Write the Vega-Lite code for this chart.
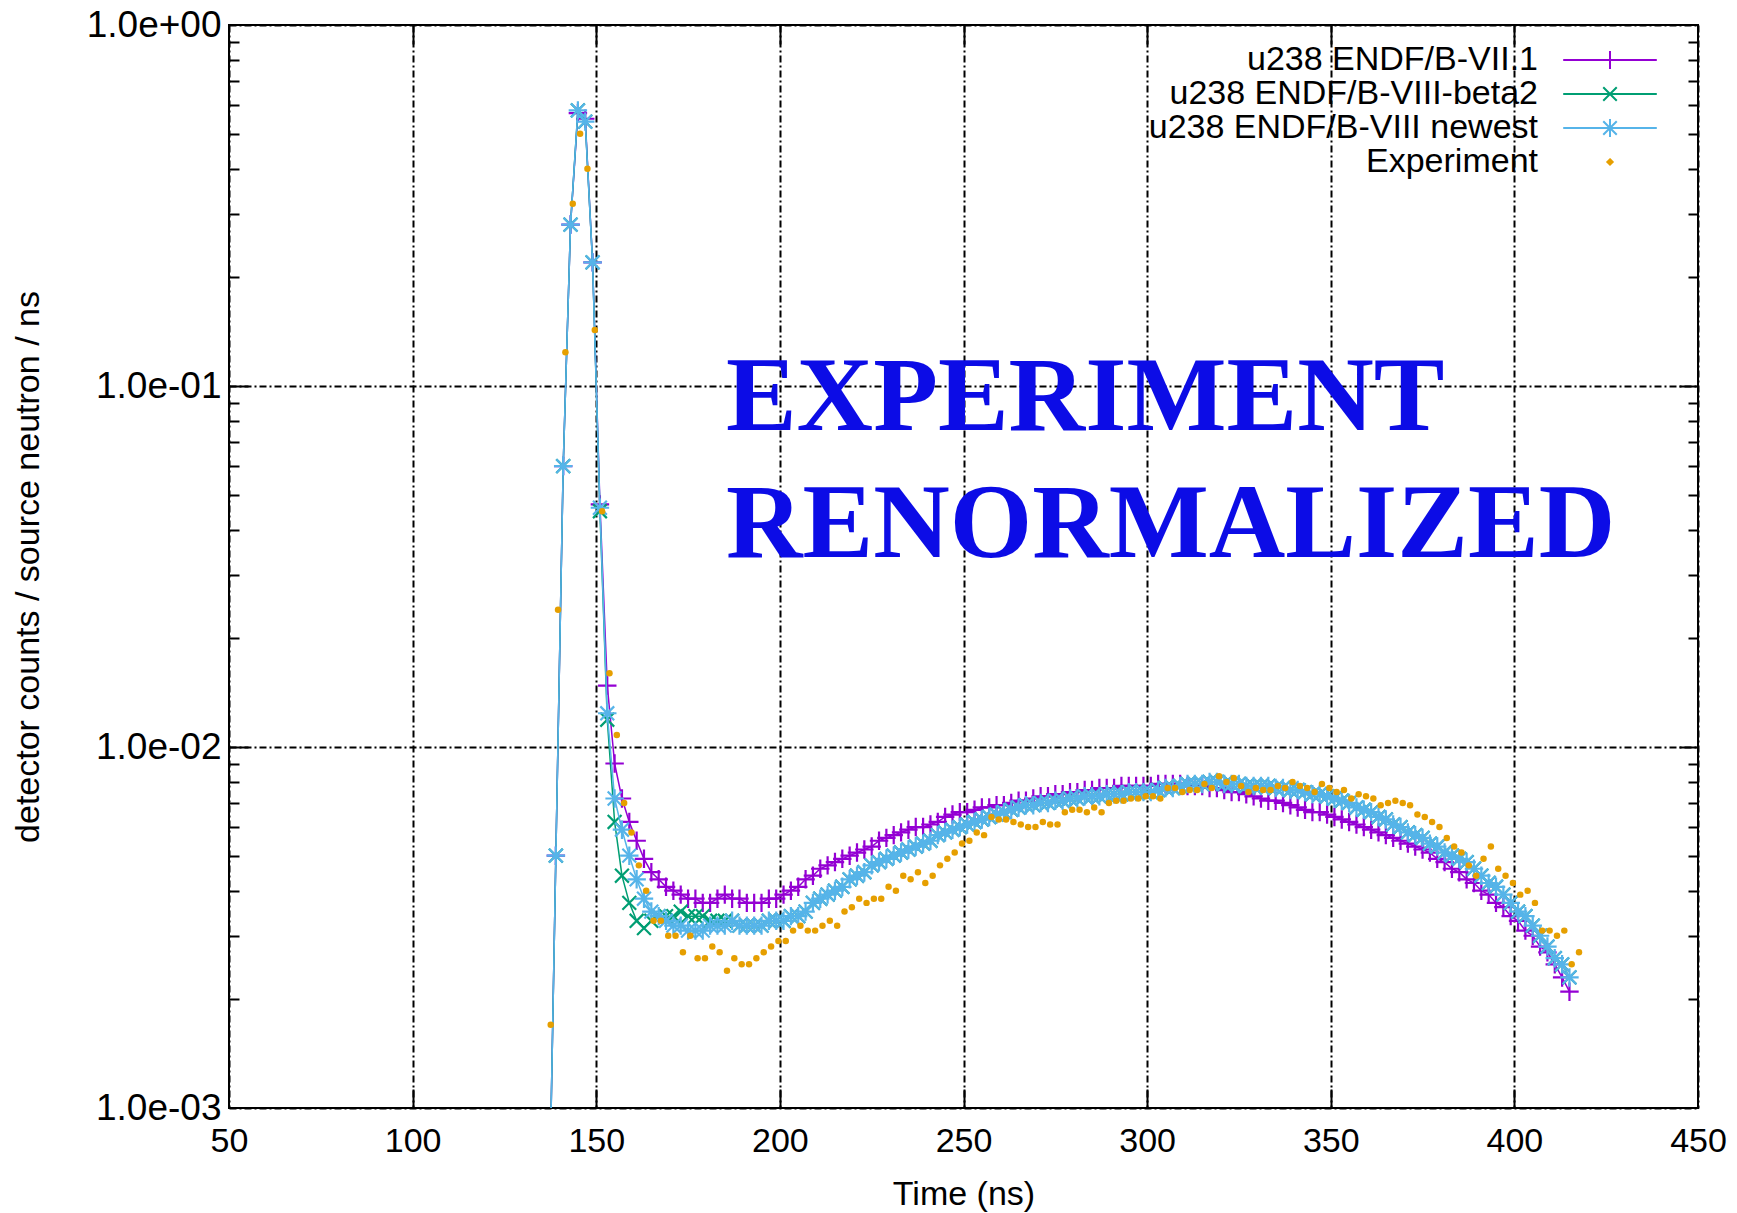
{
"$schema": "https://vega.github.io/schema/vega-lite/v6.json",
"autosize": "none",
"width": 1469,
"height": 1083,
"padding": {"left": 229, "top": 25, "right": 39, "bottom": 105},
"background": "#ffffff",
"datasets": {
"p": [{"t":137,"v":0.0004},{"t":139,"v":0.005},{"t":141,"v":0.06},{"t":143,"v":0.28},{"t":145,"v":0.57},{"t":147,"v":0.55},{"t":149,"v":0.22},{"t":151,"v":0.047},{"t":153,"v":0.0148},{"t":155,"v":0.009},{"t":157,"v":0.0072},{"t":159,"v":0.0062},{"t":161,"v":0.0055},{"t":163,"v":0.0049},{"t":165,"v":0.0045},{"t":167,"v":0.0043},{"t":169,"v":0.0041},{"t":171,"v":0.004},{"t":173,"v":0.0039},{"t":175,"v":0.0038},{"t":177,"v":0.0038},{"t":179,"v":0.0037},{"t":181,"v":0.0037},{"t":183,"v":0.0038},{"t":185,"v":0.0039},{"t":187,"v":0.0038},{"t":189,"v":0.0038},{"t":191,"v":0.0037},{"t":193,"v":0.0037},{"t":195,"v":0.0037},{"t":197,"v":0.0038},{"t":199,"v":0.0038},{"t":201,"v":0.0039},{"t":203,"v":0.004},{"t":205,"v":0.0041},{"t":207,"v":0.0043},{"t":209,"v":0.0044},{"t":211,"v":0.0046},{"t":213,"v":0.0047},{"t":215,"v":0.0048},{"t":217,"v":0.0049},{"t":219,"v":0.005},{"t":221,"v":0.0051},{"t":223,"v":0.0052},{"t":225,"v":0.0053},{"t":227,"v":0.0055},{"t":229,"v":0.0056},{"t":231,"v":0.0057},{"t":233,"v":0.0058},{"t":235,"v":0.0059},{"t":237,"v":0.006},{"t":239,"v":0.006},{"t":241,"v":0.0061},{"t":243,"v":0.0062},{"t":245,"v":0.0064},{"t":247,"v":0.0065},{"t":249,"v":0.0066},{"t":251,"v":0.0066},{"t":253,"v":0.0067},{"t":255,"v":0.0068},{"t":257,"v":0.0068},{"t":259,"v":0.0069},{"t":261,"v":0.0069},{"t":263,"v":0.007},{"t":265,"v":0.0071},{"t":267,"v":0.0071},{"t":269,"v":0.0072},{"t":271,"v":0.0073},{"t":273,"v":0.0073},{"t":275,"v":0.0074},{"t":277,"v":0.0074},{"t":279,"v":0.0075},{"t":281,"v":0.0075},{"t":283,"v":0.0076},{"t":285,"v":0.0076},{"t":287,"v":0.0077},{"t":289,"v":0.0077},{"t":291,"v":0.0077},{"t":293,"v":0.0078},{"t":295,"v":0.0078},{"t":297,"v":0.0078},{"t":299,"v":0.0078},{"t":301,"v":0.0078},{"t":303,"v":0.0079},{"t":305,"v":0.0079},{"t":307,"v":0.0079},{"t":309,"v":0.0079},{"t":311,"v":0.0078},{"t":313,"v":0.0078},{"t":315,"v":0.0078},{"t":317,"v":0.0077},{"t":319,"v":0.0077},{"t":321,"v":0.0076},{"t":323,"v":0.0075},{"t":325,"v":0.0075},{"t":327,"v":0.0074},{"t":329,"v":0.0073},{"t":331,"v":0.0072},{"t":333,"v":0.0071},{"t":335,"v":0.0071},{"t":337,"v":0.007},{"t":339,"v":0.0069},{"t":341,"v":0.0068},{"t":343,"v":0.0067},{"t":345,"v":0.0066},{"t":347,"v":0.0066},{"t":349,"v":0.0065},{"t":351,"v":0.0064},{"t":353,"v":0.0063},{"t":355,"v":0.0062},{"t":357,"v":0.0061},{"t":359,"v":0.006},{"t":361,"v":0.0059},{"t":363,"v":0.0058},{"t":365,"v":0.0057},{"t":367,"v":0.0056},{"t":369,"v":0.0055},{"t":371,"v":0.0054},{"t":373,"v":0.0053},{"t":375,"v":0.0052},{"t":377,"v":0.0051},{"t":379,"v":0.0049},{"t":381,"v":0.0048},{"t":383,"v":0.0046},{"t":385,"v":0.0045},{"t":387,"v":0.0043},{"t":389,"v":0.0042},{"t":391,"v":0.004},{"t":393,"v":0.0039},{"t":395,"v":0.0037},{"t":397,"v":0.0036},{"t":399,"v":0.0034},{"t":401,"v":0.0033},{"t":403,"v":0.0031},{"t":405,"v":0.003},{"t":407,"v":0.0028},{"t":409,"v":0.0027},{"t":411,"v":0.0025},{"t":413,"v":0.0023},{"t":415,"v":0.0021}],
"g": [{"t":137,"v":0.0004},{"t":139,"v":0.005},{"t":141,"v":0.06},{"t":143,"v":0.28},{"t":145,"v":0.58},{"t":147,"v":0.54},{"t":149,"v":0.22},{"t":151,"v":0.045},{"t":153,"v":0.0119},{"t":155,"v":0.0062},{"t":157,"v":0.0044},{"t":159,"v":0.0037},{"t":161,"v":0.0033},{"t":163,"v":0.00315},{"t":165,"v":0.0033},{"t":167,"v":0.0034},{"t":169,"v":0.0034},{"t":171,"v":0.0034},{"t":173,"v":0.0035},{"t":175,"v":0.0034},{"t":177,"v":0.0034},{"t":179,"v":0.0034},{"t":181,"v":0.0033},{"t":183,"v":0.0033},{"t":185,"v":0.0033},{"t":187,"v":0.0033},{"t":189,"v":0.0032},{"t":191,"v":0.0032},{"t":193,"v":0.0032},{"t":195,"v":0.0032},{"t":197,"v":0.0033},{"t":199,"v":0.0033},{"t":201,"v":0.0033},{"t":203,"v":0.0034},{"t":205,"v":0.0034},{"t":207,"v":0.0035},{"t":209,"v":0.0037},{"t":211,"v":0.0038},{"t":213,"v":0.0039},{"t":215,"v":0.004},{"t":217,"v":0.0041},{"t":219,"v":0.0043},{"t":221,"v":0.0044},{"t":223,"v":0.0045},{"t":225,"v":0.0047},{"t":227,"v":0.0048},{"t":229,"v":0.0049},{"t":231,"v":0.005},{"t":233,"v":0.0051},{"t":235,"v":0.0052},{"t":237,"v":0.0053},{"t":239,"v":0.0054},{"t":241,"v":0.0055},{"t":243,"v":0.0057},{"t":245,"v":0.0058},{"t":247,"v":0.0059},{"t":249,"v":0.006},{"t":251,"v":0.0061},{"t":253,"v":0.0062},{"t":255,"v":0.0063},{"t":257,"v":0.0064},{"t":259,"v":0.0065},{"t":261,"v":0.0066},{"t":263,"v":0.0067},{"t":265,"v":0.0068},{"t":267,"v":0.0069},{"t":269,"v":0.0069},{"t":271,"v":0.007},{"t":273,"v":0.007},{"t":275,"v":0.0071},{"t":277,"v":0.0071},{"t":279,"v":0.0072},{"t":281,"v":0.0072},{"t":283,"v":0.0073},{"t":285,"v":0.0073},{"t":287,"v":0.0073},{"t":289,"v":0.0074},{"t":291,"v":0.0074},{"t":293,"v":0.0074},{"t":295,"v":0.0075},{"t":297,"v":0.0075},{"t":299,"v":0.0075},{"t":301,"v":0.0075},{"t":303,"v":0.0076},{"t":305,"v":0.0077},{"t":307,"v":0.0077},{"t":309,"v":0.0078},{"t":311,"v":0.0079},{"t":313,"v":0.0079},{"t":315,"v":0.0079},{"t":317,"v":0.008},{"t":319,"v":0.008},{"t":321,"v":0.0079},{"t":323,"v":0.0079},{"t":325,"v":0.0079},{"t":327,"v":0.0078},{"t":329,"v":0.0078},{"t":331,"v":0.0078},{"t":333,"v":0.0078},{"t":335,"v":0.0077},{"t":337,"v":0.0077},{"t":339,"v":0.0076},{"t":341,"v":0.0076},{"t":343,"v":0.0075},{"t":345,"v":0.0074},{"t":347,"v":0.0074},{"t":349,"v":0.0073},{"t":351,"v":0.0072},{"t":353,"v":0.0071},{"t":355,"v":0.007},{"t":357,"v":0.0068},{"t":359,"v":0.0067},{"t":361,"v":0.0066},{"t":363,"v":0.0064},{"t":365,"v":0.0063},{"t":367,"v":0.0061},{"t":369,"v":0.006},{"t":371,"v":0.0058},{"t":373,"v":0.0057},{"t":375,"v":0.0056},{"t":377,"v":0.0054},{"t":379,"v":0.0053},{"t":381,"v":0.0051},{"t":383,"v":0.005},{"t":385,"v":0.0049},{"t":387,"v":0.0048},{"t":389,"v":0.0046},{"t":391,"v":0.0044},{"t":393,"v":0.0042},{"t":395,"v":0.0041},{"t":397,"v":0.0039},{"t":399,"v":0.0037},{"t":401,"v":0.0035},{"t":403,"v":0.0034},{"t":405,"v":0.0032},{"t":407,"v":0.003},{"t":409,"v":0.0028},{"t":411,"v":0.0026},{"t":413,"v":0.0025},{"t":415,"v":0.0023}],
"n": [{"t":137,"v":0.0004},{"t":139,"v":0.005},{"t":141,"v":0.06},{"t":143,"v":0.28},{"t":145,"v":0.58},{"t":147,"v":0.54},{"t":149,"v":0.22},{"t":151,"v":0.046},{"t":153,"v":0.0124},{"t":155,"v":0.0072},{"t":157,"v":0.0059},{"t":159,"v":0.005},{"t":161,"v":0.0043},{"t":163,"v":0.0038},{"t":165,"v":0.0035},{"t":167,"v":0.0034},{"t":169,"v":0.0033},{"t":171,"v":0.0032},{"t":173,"v":0.0032},{"t":175,"v":0.0031},{"t":177,"v":0.0031},{"t":179,"v":0.0031},{"t":181,"v":0.0032},{"t":183,"v":0.0032},{"t":185,"v":0.0032},{"t":187,"v":0.0033},{"t":189,"v":0.0032},{"t":191,"v":0.0032},{"t":193,"v":0.0032},{"t":195,"v":0.0032},{"t":197,"v":0.0033},{"t":199,"v":0.0033},{"t":201,"v":0.0033},{"t":203,"v":0.0034},{"t":205,"v":0.0034},{"t":207,"v":0.0035},{"t":209,"v":0.0037},{"t":211,"v":0.0038},{"t":213,"v":0.0039},{"t":215,"v":0.004},{"t":217,"v":0.0041},{"t":219,"v":0.0043},{"t":221,"v":0.0044},{"t":223,"v":0.0045},{"t":225,"v":0.0047},{"t":227,"v":0.0048},{"t":229,"v":0.0049},{"t":231,"v":0.005},{"t":233,"v":0.0051},{"t":235,"v":0.0052},{"t":237,"v":0.0053},{"t":239,"v":0.0054},{"t":241,"v":0.0055},{"t":243,"v":0.0057},{"t":245,"v":0.0058},{"t":247,"v":0.0059},{"t":249,"v":0.006},{"t":251,"v":0.0061},{"t":253,"v":0.0062},{"t":255,"v":0.0063},{"t":257,"v":0.0064},{"t":259,"v":0.0065},{"t":261,"v":0.0066},{"t":263,"v":0.0067},{"t":265,"v":0.0068},{"t":267,"v":0.0069},{"t":269,"v":0.0069},{"t":271,"v":0.007},{"t":273,"v":0.007},{"t":275,"v":0.0071},{"t":277,"v":0.0071},{"t":279,"v":0.0072},{"t":281,"v":0.0072},{"t":283,"v":0.0073},{"t":285,"v":0.0073},{"t":287,"v":0.0073},{"t":289,"v":0.0074},{"t":291,"v":0.0074},{"t":293,"v":0.0074},{"t":295,"v":0.0075},{"t":297,"v":0.0075},{"t":299,"v":0.0075},{"t":301,"v":0.0075},{"t":303,"v":0.0076},{"t":305,"v":0.0077},{"t":307,"v":0.0077},{"t":309,"v":0.0078},{"t":311,"v":0.0079},{"t":313,"v":0.0079},{"t":315,"v":0.0079},{"t":317,"v":0.008},{"t":319,"v":0.008},{"t":321,"v":0.0079},{"t":323,"v":0.0079},{"t":325,"v":0.0079},{"t":327,"v":0.0078},{"t":329,"v":0.0078},{"t":331,"v":0.0078},{"t":333,"v":0.0078},{"t":335,"v":0.0077},{"t":337,"v":0.0077},{"t":339,"v":0.0076},{"t":341,"v":0.0076},{"t":343,"v":0.0075},{"t":345,"v":0.0074},{"t":347,"v":0.0074},{"t":349,"v":0.0073},{"t":351,"v":0.0072},{"t":353,"v":0.0071},{"t":355,"v":0.007},{"t":357,"v":0.0068},{"t":359,"v":0.0067},{"t":361,"v":0.0066},{"t":363,"v":0.0064},{"t":365,"v":0.0063},{"t":367,"v":0.0061},{"t":369,"v":0.006},{"t":371,"v":0.0058},{"t":373,"v":0.0057},{"t":375,"v":0.0056},{"t":377,"v":0.0054},{"t":379,"v":0.0053},{"t":381,"v":0.0051},{"t":383,"v":0.005},{"t":385,"v":0.0049},{"t":387,"v":0.0048},{"t":389,"v":0.0046},{"t":391,"v":0.0044},{"t":393,"v":0.0042},{"t":395,"v":0.0041},{"t":397,"v":0.0039},{"t":399,"v":0.0037},{"t":401,"v":0.0035},{"t":403,"v":0.0034},{"t":405,"v":0.0032},{"t":407,"v":0.003},{"t":409,"v":0.0028},{"t":411,"v":0.0026},{"t":413,"v":0.0025},{"t":415,"v":0.0023}],
"e": [{"t":137.6,"v":0.0017},{"t":139.6,"v":0.024},{"t":141.6,"v":0.124},{"t":143.6,"v":0.32},{"t":145.6,"v":0.5},{"t":147.6,"v":0.4},{"t":149.6,"v":0.143},{"t":151.6,"v":0.045},{"t":153.6,"v":0.016},{"t":155.6,"v":0.0108},{"t":157.6,"v":0.007},{"t":159.6,"v":0.0058},{"t":161.6,"v":0.0047},{"t":163.6,"v":0.004},{"t":165.6,"v":0.0033},{"t":167.6,"v":0.0033},{"t":169.6,"v":0.003},{"t":171.6,"v":0.003},{"t":173.6,"v":0.0027},{"t":175.6,"v":0.003},{"t":177.6,"v":0.0026},{"t":179.6,"v":0.0026},{"t":181.6,"v":0.0028},{"t":183.6,"v":0.0027},{"t":185.6,"v":0.0024},{"t":187.6,"v":0.0026},{"t":189.6,"v":0.0025},{"t":191.6,"v":0.0025},{"t":193.6,"v":0.0026},{"t":195.6,"v":0.0027},{"t":197.6,"v":0.0028},{"t":199.6,"v":0.0029},{"t":201.6,"v":0.0029},{"t":203.6,"v":0.0031},{"t":205.6,"v":0.0032},{"t":207.6,"v":0.0031},{"t":209.6,"v":0.0031},{"t":211.6,"v":0.0032},{"t":213.6,"v":0.0033},{"t":215.6,"v":0.0032},{"t":217.6,"v":0.0035},{"t":219.6,"v":0.0036},{"t":221.6,"v":0.0038},{"t":223.6,"v":0.0037},{"t":225.6,"v":0.0038},{"t":227.6,"v":0.0038},{"t":229.6,"v":0.0041},{"t":231.6,"v":0.004},{"t":233.6,"v":0.0044},{"t":235.6,"v":0.0043},{"t":237.6,"v":0.0045},{"t":239.6,"v":0.0042},{"t":241.6,"v":0.0044},{"t":243.6,"v":0.0047},{"t":245.6,"v":0.0049},{"t":247.6,"v":0.0051},{"t":249.6,"v":0.0054},{"t":251.6,"v":0.0055},{"t":253.6,"v":0.0058},{"t":255.6,"v":0.0057},{"t":257.6,"v":0.0064},{"t":259.6,"v":0.0063},{"t":261.6,"v":0.0063},{"t":263.6,"v":0.0062},{"t":265.6,"v":0.0061},{"t":267.6,"v":0.006},{"t":269.6,"v":0.006},{"t":271.6,"v":0.0062},{"t":273.6,"v":0.0061},{"t":275.6,"v":0.0061},{"t":277.6,"v":0.0066},{"t":279.6,"v":0.0067},{"t":281.6,"v":0.0067},{"t":283.6,"v":0.0066},{"t":285.6,"v":0.0068},{"t":287.6,"v":0.0066},{"t":289.6,"v":0.007},{"t":291.6,"v":0.0071},{"t":293.6,"v":0.0071},{"t":295.6,"v":0.0072},{"t":297.6,"v":0.0072},{"t":299.6,"v":0.0073},{"t":301.6,"v":0.0073},{"t":303.6,"v":0.0072},{"t":305.6,"v":0.0077},{"t":307.6,"v":0.0077},{"t":309.6,"v":0.0075},{"t":311.6,"v":0.0076},{"t":313.6,"v":0.0076},{"t":315.6,"v":0.0079},{"t":317.6,"v":0.0077},{"t":319.6,"v":0.0083},{"t":321.6,"v":0.008},{"t":323.6,"v":0.0082},{"t":325.6,"v":0.0078},{"t":327.6,"v":0.0075},{"t":329.6,"v":0.0077},{"t":331.6,"v":0.0076},{"t":333.6,"v":0.0076},{"t":335.6,"v":0.0078},{"t":337.6,"v":0.0077},{"t":339.6,"v":0.008},{"t":341.6,"v":0.0078},{"t":343.6,"v":0.0077},{"t":345.6,"v":0.0075},{"t":347.6,"v":0.0079},{"t":349.6,"v":0.0077},{"t":351.6,"v":0.0075},{"t":353.6,"v":0.0076},{"t":355.6,"v":0.0072},{"t":357.6,"v":0.0074},{"t":359.6,"v":0.0073},{"t":361.6,"v":0.0072},{"t":363.6,"v":0.0069},{"t":365.6,"v":0.007},{"t":367.6,"v":0.0071},{"t":369.6,"v":0.007},{"t":371.6,"v":0.0069},{"t":373.6,"v":0.0065},{"t":375.6,"v":0.0064},{"t":377.6,"v":0.0062},{"t":379.6,"v":0.006},{"t":381.6,"v":0.0056},{"t":383.6,"v":0.0053},{"t":385.6,"v":0.0051},{"t":387.6,"v":0.0047},{"t":389.6,"v":0.0044},{"t":391.6,"v":0.0049},{"t":393.6,"v":0.0053},{"t":395.6,"v":0.0046},{"t":397.6,"v":0.0044},{"t":399.6,"v":0.0042},{"t":401.6,"v":0.0039},{"t":403.6,"v":0.004},{"t":405.6,"v":0.0037},{"t":407.6,"v":0.0031},{"t":409.6,"v":0.0031},{"t":411.6,"v":0.003},{"t":413.6,"v":0.0031},{"t":415.6,"v":0.0025},{"t":417.6,"v":0.0027}]
},
"resolve": {"axis": {"x": "independent", "y": "independent"}},
"layer": [
{
"data": {"name": "p"},
"mark": {"type": "line", "strokeWidth": 1.5, "clip": true, "point": {"shape": "M-1,0H1M0,-1V1", "filled": false, "size": 340, "strokeWidth": 2.2, "clip": true}},
"encoding": {
"x": {"field": "t", "type": "quantitative", "scale": {"domain": [50, 450], "nice": false, "zero": false},
 "axis": {"orient": "bottom", "values": [50,100,150,200,250,300,350,400,450], "ticks": false, "grid": true, "labelPadding": 33, "labelBaseline": "middle", "labelFlush": false, "labelOverlap": false, "title": "Time (ns)", "titleY": 86, "titleBaseline": "middle"}},
"y": {"field": "v", "type": "quantitative", "scale": {"type": "log", "domain": [0.001, 1], "nice": false},
 "axis": {"orient": "left", "values": [0.001, 0.01, 0.1, 1], "ticks": false, "grid": true, "labelPadding": 8, "labelFontSize": 37, "labelOverlap": false, "labelExpr": "datum.value >= 1 ? '1.0e+00' : '1.0e-0' + format(-log(datum.value)/LN10, '.0f')", "title": "detector counts / source neutron / ns", "titleX": -201, "titleBaseline": "middle"}},
"color": {"datum": "u238 ENDF/B-VII.1", "type": "nominal",
 "scale": {"domain": ["u238 ENDF/B-VII.1", "u238 ENDF/B-VIII-beta2", "u238 ENDF/B-VIII newest", "Experiment"], "range": ["#9400d3", "#009e73", "#56b4e9", "#e69f00"]},
 "legend": {"title": null, "orient": "none", "legendX": 1326, "legendY": 18, "labelAlign": "right", "labelOffset": -89, "symbolOffset": 38, "symbolSize": 324, "rowPadding": 0, "padding": 0,
  "encode": {"symbols": {"update": {
   "shape": {"signal": "datum.value === 'u238 ENDF/B-VII.1' ? 'M-5.2,0H5.2M0,-1V1' : datum.value === 'u238 ENDF/B-VIII-beta2' ? 'M-5.2,0H5.2M-0.75,-0.75L0.75,0.75M-0.75,0.75L0.75,-0.75' : datum.value === 'u238 ENDF/B-VIII newest' ? 'M-5.2,0H5.2M0,-1V1M-0.75,-0.75L0.75,0.75M-0.75,0.75L0.75,-0.75' : 'M0,-0.3L0.3,0L0,0.3L-0.3,0Z'"},
   "stroke": {"signal": "scale('color', datum.value)"},
   "fill": {"signal": "datum.value === 'Experiment' ? scale('color', datum.value) : 'transparent'"},
   "strokeWidth": {"value": 2},
   "opacity": {"value": 1}}}}}}
}
},
{
"data": {"name": "g"},
"mark": {"type": "line", "strokeWidth": 1.5, "clip": true, "point": {"shape": "M-0.75,-0.75L0.75,0.75M-0.75,0.75L0.75,-0.75", "filled": false, "size": 340, "strokeWidth": 2.2, "clip": true}},
"encoding": {
"x": {"field": "t", "type": "quantitative", "axis": {"orient": "top", "values": [100,150,200,250,300,350,400], "labels": false, "grid": false, "ticks": true, "tickSize": -19, "title": null}},
"y": {"field": "v", "type": "quantitative", "axis": {"orient": "right", "values": [0.002,0.003,0.004,0.005,0.006,0.007,0.008,0.009,0.02,0.03,0.04,0.05,0.06,0.07,0.08,0.09,0.2,0.3,0.4,0.5,0.6,0.7,0.8,0.9], "labels": false, "grid": false, "ticks": true, "tickSize": -10, "title": null}},
"color": {"datum": "u238 ENDF/B-VIII-beta2", "type": "nominal",
 "scale": {"domain": ["u238 ENDF/B-VII.1", "u238 ENDF/B-VIII-beta2", "u238 ENDF/B-VIII newest", "Experiment"], "range": ["#9400d3", "#009e73", "#56b4e9", "#e69f00"]},
 "legend": {"title": null, "orient": "none", "legendX": 1326, "legendY": 18, "labelAlign": "right", "labelOffset": -89, "symbolOffset": 38, "symbolSize": 324, "rowPadding": 0, "padding": 0,
  "encode": {"symbols": {"update": {
   "shape": {"signal": "datum.value === 'u238 ENDF/B-VII.1' ? 'M-5.2,0H5.2M0,-1V1' : datum.value === 'u238 ENDF/B-VIII-beta2' ? 'M-5.2,0H5.2M-0.75,-0.75L0.75,0.75M-0.75,0.75L0.75,-0.75' : datum.value === 'u238 ENDF/B-VIII newest' ? 'M-5.2,0H5.2M0,-1V1M-0.75,-0.75L0.75,0.75M-0.75,0.75L0.75,-0.75' : 'M0,-0.3L0.3,0L0,0.3L-0.3,0Z'"},
   "stroke": {"signal": "scale('color', datum.value)"},
   "fill": {"signal": "datum.value === 'Experiment' ? scale('color', datum.value) : 'transparent'"},
   "strokeWidth": {"value": 2},
   "opacity": {"value": 1}}}}}}
}
},
{
"data": {"name": "n"},
"mark": {"type": "line", "strokeWidth": 1.5, "clip": true, "point": {"shape": "M-1,0H1M0,-1V1M-0.75,-0.75L0.75,0.75M-0.75,0.75L0.75,-0.75", "filled": false, "size": 340, "strokeWidth": 2.2, "clip": true}},
"encoding": {
"x": {"field": "t", "type": "quantitative", "axis": {"orient": "bottom", "values": [100,150,200,250,300,350,400], "labels": false, "grid": false, "ticks": true, "tickSize": -19, "title": null}},
"y": {"field": "v", "type": "quantitative", "axis": {"orient": "left", "values": [0.002,0.003,0.004,0.005,0.006,0.007,0.008,0.009,0.02,0.03,0.04,0.05,0.06,0.07,0.08,0.09,0.2,0.3,0.4,0.5,0.6,0.7,0.8,0.9], "labels": false, "grid": false, "ticks": true, "tickSize": -10, "title": null}},
"color": {"datum": "u238 ENDF/B-VIII newest", "type": "nominal",
 "scale": {"domain": ["u238 ENDF/B-VII.1", "u238 ENDF/B-VIII-beta2", "u238 ENDF/B-VIII newest", "Experiment"], "range": ["#9400d3", "#009e73", "#56b4e9", "#e69f00"]},
 "legend": {"title": null, "orient": "none", "legendX": 1326, "legendY": 18, "labelAlign": "right", "labelOffset": -89, "symbolOffset": 38, "symbolSize": 324, "rowPadding": 0, "padding": 0,
  "encode": {"symbols": {"update": {
   "shape": {"signal": "datum.value === 'u238 ENDF/B-VII.1' ? 'M-5.2,0H5.2M0,-1V1' : datum.value === 'u238 ENDF/B-VIII-beta2' ? 'M-5.2,0H5.2M-0.75,-0.75L0.75,0.75M-0.75,0.75L0.75,-0.75' : datum.value === 'u238 ENDF/B-VIII newest' ? 'M-5.2,0H5.2M0,-1V1M-0.75,-0.75L0.75,0.75M-0.75,0.75L0.75,-0.75' : 'M0,-0.3L0.3,0L0,0.3L-0.3,0Z'"},
   "stroke": {"signal": "scale('color', datum.value)"},
   "fill": {"signal": "datum.value === 'Experiment' ? scale('color', datum.value) : 'transparent'"},
   "strokeWidth": {"value": 2},
   "opacity": {"value": 1}}}}}}
}
},
{
"data": {"name": "e"},
"mark": {"type": "point", "shape": "circle", "filled": true, "size": 42, "opacity": 1, "clip": true},
"encoding": {
"x": {"field": "t", "type": "quantitative", "axis": null},
"y": {"field": "v", "type": "quantitative", "axis": {"orient": "left", "values": [0.01, 0.1], "labels": false, "grid": false, "ticks": true, "tickSize": -19, "title": null}},
"color": {"datum": "Experiment", "type": "nominal",
 "scale": {"domain": ["u238 ENDF/B-VII.1", "u238 ENDF/B-VIII-beta2", "u238 ENDF/B-VIII newest", "Experiment"], "range": ["#9400d3", "#009e73", "#56b4e9", "#e69f00"]},
 "legend": {"title": null, "orient": "none", "legendX": 1326, "legendY": 18, "labelAlign": "right", "labelOffset": -89, "symbolOffset": 38, "symbolSize": 324, "rowPadding": 0, "padding": 0,
  "encode": {"symbols": {"update": {
   "shape": {"signal": "datum.value === 'u238 ENDF/B-VII.1' ? 'M-5.2,0H5.2M0,-1V1' : datum.value === 'u238 ENDF/B-VIII-beta2' ? 'M-5.2,0H5.2M-0.75,-0.75L0.75,0.75M-0.75,0.75L0.75,-0.75' : datum.value === 'u238 ENDF/B-VIII newest' ? 'M-5.2,0H5.2M0,-1V1M-0.75,-0.75L0.75,0.75M-0.75,0.75L0.75,-0.75' : 'M0,-0.3L0.3,0L0,0.3L-0.3,0Z'"},
   "stroke": {"signal": "scale('color', datum.value)"},
   "fill": {"signal": "datum.value === 'Experiment' ? scale('color', datum.value) : 'transparent'"},
   "strokeWidth": {"value": 2},
   "opacity": {"value": 1}}}}}}
}
},
{
"data": {"values": [{}]},
"mark": {"type": "text", "text": ["EXPERIMENT", "RENORMALIZED"], "font": "Liberation Serif", "fontWeight": "bold", "fontSize": 106, "color": "#0c0ce6", "align": "left", "baseline": "alphabetic", "lineHeight": 127},
"encoding": {
"x": {"datum": 185.3, "type": "quantitative", "axis": null},
"y": {"datum": 0.0755, "type": "quantitative", "axis": {"orient": "right", "values": [0.01, 0.1], "labels": false, "grid": false, "ticks": true, "tickSize": -19, "title": null}}
}
}
],
"config": {
"view": {"stroke": "#000000", "strokeWidth": 2},
"font": "Liberation Sans",
"axis": {"labelFont": "Liberation Sans", "labelFontSize": 34, "labelColor": "#000000", "titleFont": "Liberation Sans", "titleFontSize": 34, "titleFontWeight": "normal", "titleColor": "#000000", "tickColor": "#000000", "tickWidth": 2, "gridColor": "#000000", "gridDash": [7, 3, 2, 3], "gridWidth": 2, "gridOpacity": 1, "domain": false},
"legend": {"labelFont": "Liberation Sans", "labelFontSize": 34, "labelColor": "#000000", "labelLimit": 600}
}
}
